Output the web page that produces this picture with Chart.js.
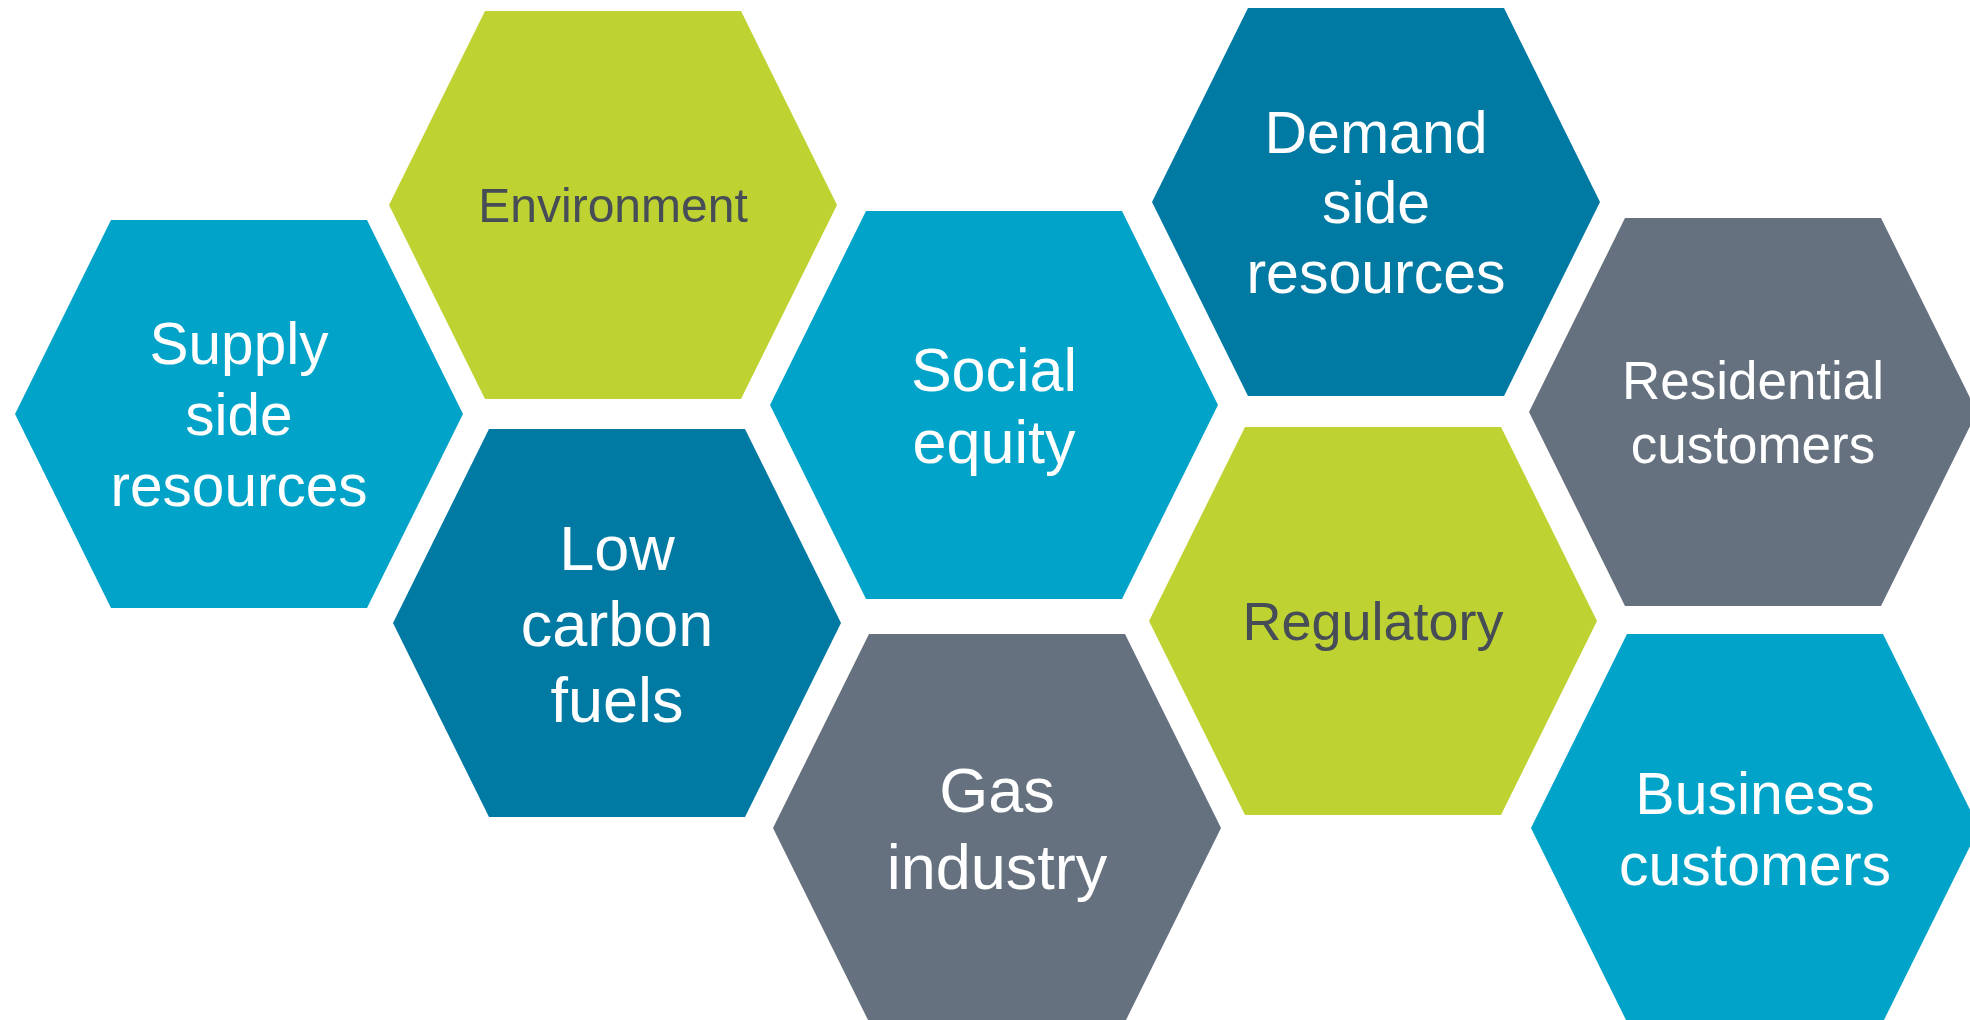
<!DOCTYPE html>
<html>
<head>
<meta charset="utf-8">
<script src="https://cdn.jsdelivr.net/npm/chart.js@4/dist/chart.umd.min.js"></script>
<style>
html,body{margin:0;padding:0;background:#ffffff;overflow:hidden;}
canvas{display:block;}
</style>
</head>
<body>
<canvas id="c" width="1970" height="1020"></canvas>
<script>
// ---- data ----
const categories = [
  ["Supply", "side", "resources"],
  ["Environment"],
  ["Low", "carbon", "fuels"],
  ["Social", "equity"],
  ["Gas", "industry"],
  ["Demand", "side", "resources"],
  ["Regulatory"],
  ["Residential", "customers"],
  ["Business", "customers"]
];
const centerX = [239, 613, 617, 994, 997, 1376, 1373, 1753, 1755];
const centerY = [414, 205, 623, 405, 828, 202, 621, 412, 828];
const groups  = ["light", "lime", "dark", "light", "grey", "dark", "lime", "grey", "light"];

// ---- styles ----
const fillColors = { light: "#02a3c8", lime: "#bed232", dark: "#0079a3", grey: "#65717f" };
const textColors = { light: "#ffffff", lime: "#474d56", dark: "#ffffff", grey: "#ffffff" };
const fontSizes = [58.5, 48, 63, 61, 63, 59, 54, 53, 59];
const lineHeights = [71, 60, 76, 72, 77, 70, 60, 64, 71];
const HALF_W = 224, HALF_TOP = 128, HALF_H = 194;

function hexPoints(cx, cy) {
  return [
    {x: cx - HALF_TOP, y: cy - HALF_H},
    {x: cx + HALF_TOP, y: cy - HALF_H},
    {x: cx + HALF_W,   y: cy},
    {x: cx + HALF_TOP, y: cy + HALF_H},
    {x: cx - HALF_TOP, y: cy + HALF_H},
    {x: cx - HALF_W,   y: cy},
    {x: cx - HALF_TOP, y: cy - HALF_H}
  ];
}

const datasets = categories.map((lab, i) => ({
  label: lab.join(" "),
  data: hexPoints(centerX[i], centerY[i]),
  showLine: true,
  fill: 'shape',
  tension: 0,
  backgroundColor: fillColors[groups[i]],
  borderColor: fillColors[groups[i]],
  borderWidth: 0,
  pointRadius: 0,
  pointHoverRadius: 0
}));

const labelPlugin = {
  id: 'hexLabels',
  afterDatasetsDraw(chart) {
    const ctx = chart.ctx;
    const xs = chart.scales.x, ys = chart.scales.y;
    ctx.save();
    ctx.textAlign = 'center';
    ctx.textBaseline = 'alphabetic';
    categories.forEach((lines, i) => {
      const px = xs.getPixelForValue(centerX[i]);
      const py = ys.getPixelForValue(centerY[i]);
      const fs = fontSizes[i], lh = lineHeights[i];
      ctx.font = fs + 'px "Liberation Sans", Arial, sans-serif';
      ctx.fillStyle = textColors[groups[i]];
      const n = lines.length;
      const cap = fs * 0.716;
      lines.forEach((t, k) => {
        const off = (k - (n - 1) / 2) * lh;
        ctx.fillText(t, px, py + off + cap / 2);
      });
    });
    ctx.restore();
  }
};

new Chart(document.getElementById('c'), {
  type: 'scatter',
  data: { datasets },
  options: {
    responsive: false,
    animation: false,
    layout: { padding: 0 },
    plugins: { legend: { display: false }, tooltip: { enabled: false } },
    events: [],
    scales: {
      x: { type: 'linear', min: 0, max: 1970, display: false },
      y: { type: 'linear', min: 0, max: 1020, reverse: true, display: false }
    }
  },
  plugins: [labelPlugin]
});
</script>
</body>
</html>
